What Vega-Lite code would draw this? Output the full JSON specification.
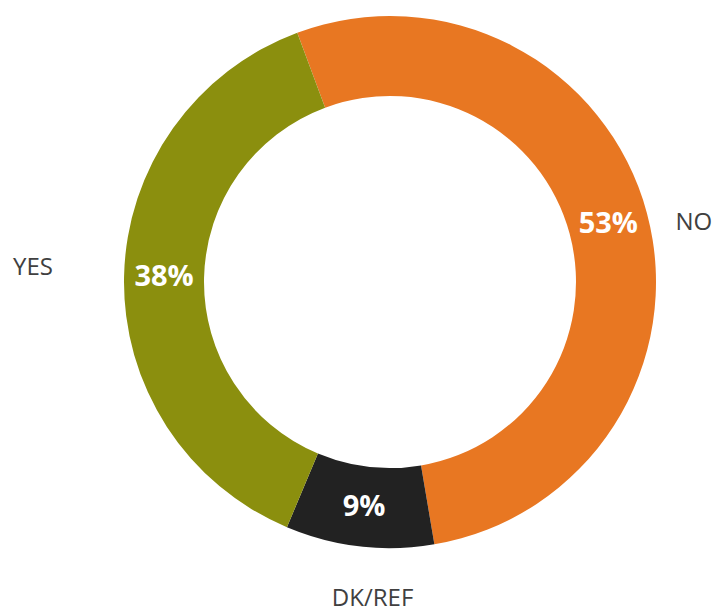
{
  "$schema": "https://vega.github.io/schema/vega-lite/v6.json",
  "width": 650,
  "height": 564,
  "autosize": {"type": "none"},
  "padding": {"left": 65, "top": 0, "right": 0, "bottom": 48},
  "background": "white",
  "data": {
    "values": [
      {"category": "NO", "share": 0.53, "rank": 1},
      {"category": "DK/REF", "share": 0.09, "rank": 2},
      {"category": "YES", "share": 0.38, "rank": 3}
    ]
  },
  "encoding": {
    "theta": {"field": "share", "type": "quantitative", "stack": true, "scale": {"range": [-0.356, 5.927]}},
    "order": {"field": "rank", "type": "quantitative"}
  },
  "layer": [
    {
      "mark": {"type": "arc", "outerRadius": 266, "innerRadius": 186},
      "encoding": {
        "color": {
          "field": "category",
          "type": "nominal",
          "scale": {"domain": ["NO", "DK/REF", "YES"], "range": ["#E87722", "#222222", "#8B8F0E"]},
          "legend": null
        }
      }
    },
    {
      "mark": {"type": "text", "radius": 226, "font": "Open Sans", "fontWeight": "bold", "fontSize": 29, "color": "white", "align": "center", "baseline": "middle"},
      "encoding": {
        "text": {"field": "share", "type": "quantitative", "format": ".0%"}
      }
    },
    {
      "mark": {
        "type": "text",
        "radius": 300,
        "font": "Open Sans",
        "fontSize": 24,
        "color": "#404040",
        "align": "center",
        "baseline": "middle",
        "dx": {"expr": "datum.category == 'NO' ? 14 : datum.category == 'YES' ? -57 : 17"},
        "dy": {"expr": "datum.category == 'NO' ? 19 : datum.category == 'YES' ? -8 : 19"}
      },
      "encoding": {
        "text": {"field": "category", "type": "nominal"}
      }
    }
  ]
}
